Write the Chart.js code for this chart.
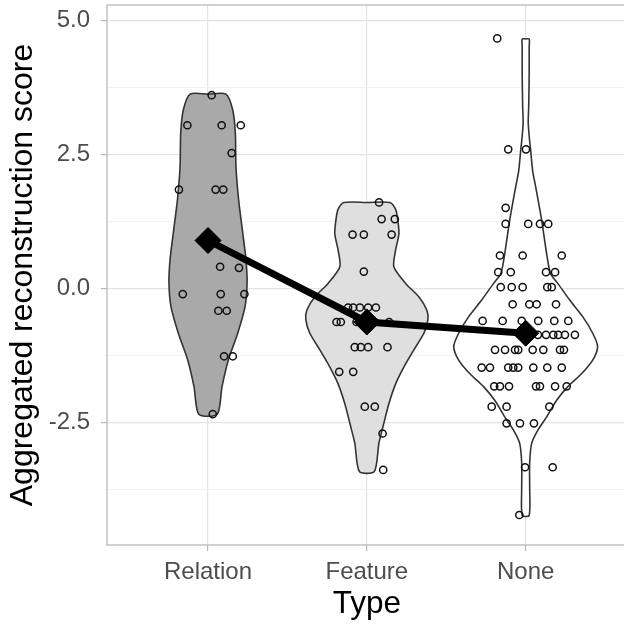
<!DOCTYPE html>
<html>
<head>
<meta charset="utf-8">
<title>Aggregated reconstruction score by type</title>
<script src="https://cdn.jsdelivr.net/npm/chart.js@4.4.1/dist/chart.umd.min.js"></script>
<style>
  html, body { margin: 0; padding: 0; background: #fff; overflow: hidden; }
  #wrap { width: 632px; height: 624px; }
</style>
</head>
<body>
<div id="wrap"><canvas id="chart" width="632" height="624"></canvas></div>
<script>
// categories on the x axis
const categories = ["Relation", "Feature", "None"];

// y ticks (labelled) and minor grid lines
const yTicks = [-2.5, 0, 2.5, 5];
const yMinorTicks = [-3.75, -1.25, 1.25, 3.75];

// group means (black diamonds + line)
const meanScores = [0.90, -0.62, -0.83];

// violin outlines: score levels and half widths (in category units)
const relationLevels = [3.63, 3.33, 2.90, 2.27, 1.65, 1.03, 0.54, 0.11, -0.34, -0.83, -1.33, -1.83, -2.34];
const relationWidths = [0.113, 0.156, 0.172, 0.176, 0.193, 0.219, 0.239, 0.246, 0.233, 0.187, 0.128, 0.088, 0.058];

const featureLevels = [1.61, 1.49, 1.34, 1.03, 0.72, 0.41, 0.10, -0.15, -0.40, -0.58, -0.83, -1.14, -1.46, -1.76, -2.14, -2.51, -2.88, -3.41];
const featureWidths = [0.145, 0.180, 0.192, 0.202, 0.181, 0.170, 0.244, 0.327, 0.378, 0.384, 0.359, 0.296, 0.233, 0.183, 0.139, 0.107, 0.076, 0.047];

const noneLevels = [4.66, 4.5, 4.0, 3.4, 3.10, 2.85, 2.59, 2.2, 1.9, 1.27, 0.65, 0.28, 0.10, -0.21, -0.52, -0.83, -1.08, -1.33, -1.58, -1.83, -2.08, -2.39, -2.64, -2.88, -3.25, -3.7, -4.23];
const noneWidths = [0.022, 0.022, 0.022, 0.019, 0.016, 0.022, 0.031, 0.044, 0.063, 0.101, 0.132, 0.157, 0.202, 0.277, 0.359, 0.422, 0.453, 0.422, 0.353, 0.264, 0.195, 0.132, 0.076, 0.038, 0.025, 0.025, 0.022];

// individual scores and their horizontal jitter (category units)
const relationScores = [3.61, 3.05, 3.05, 3.05, 2.53, 1.85, 1.85, 1.85, 0.41, 0.39, -0.10, -0.10, -0.10, -0.41, -0.41, -1.26, -1.26, -2.34];
const relationJitter = [0.023, -0.130, 0.086, 0.206, 0.149, -0.183, 0.048, 0.096, 0.076, 0.195, -0.159, 0.080, 0.229, 0.065, 0.118, 0.101, 0.156, 0.030];

const featureScores = [1.61, 1.30, 1.30, 1.01, 1.01, 1.01, 0.32, -0.35, -0.35, -0.35, -0.35, -0.35, -0.62, -0.62, -0.62, -0.62, -0.62, -0.62,
  -1.09, -1.09, -1.09, -1.09, -1.55, -1.55, -2.20, -2.20, -2.70, -3.38];
const featureJitter = [0.077, 0.093, 0.176, -0.090, -0.019, 0.156, -0.019, -0.118, -0.086, -0.044, 0.008, 0.057, -0.191, -0.164, -0.065, 0.140, 0.019, 0.050,
  -0.076, -0.038, 0.008, 0.130, -0.174, -0.086, -0.013, 0.050, 0.099, 0.103];

const noneScores = [4.67, 2.60, 2.60, 1.51, 1.21, 1.21, 1.21, 1.21, 0.62, 0.62, 0.62, 0.31, 0.31, 0.31, 0.31,
  0.03, 0.03, 0.03, 0.03, 0.03, -0.29, -0.29, -0.29, -0.29,
  -0.60, -0.60, -0.60, -0.60, -0.60, -0.60, -0.86, -0.86, -0.86, -0.86, -0.86, -0.86, -0.86,
  -1.14, -1.14, -1.14, -1.14, -1.14, -1.14, -1.14, -1.14,
  -1.47, -1.47, -1.47, -1.47, -1.47, -1.47, -1.47, -1.47,
  -1.82, -1.82, -1.82, -1.82, -1.82, -1.82, -1.82,
  -2.20, -2.20, -2.20, -2.51, -2.51, -2.51, -3.33, -3.33, -4.22];
const noneJitter = [-0.179, -0.110, 0.002, -0.126, -0.126, 0.016, 0.090, 0.142, -0.162, -0.019, 0.227, -0.173, -0.094, 0.128, 0.185,
  -0.157, -0.088, -0.019, 0.136, 0.164, -0.082, 0.023, 0.069, 0.191,
  -0.271, -0.145, -0.025, 0.079, 0.180, 0.268, 0.027, 0.077, 0.128, 0.174, 0.205, 0.247, 0.310,
  -0.193, -0.130, -0.067, -0.047, 0.044, 0.111, 0.216, 0.241,
  -0.277, -0.225, -0.110, -0.078, -0.047, 0.048, 0.136, 0.227,
  -0.198, -0.162, -0.105, 0.065, 0.090, 0.185, 0.258,
  -0.214, -0.120, 0.149, -0.120, -0.036, 0.052, -0.004, 0.170, -0.040];

const FONT = "'Liberation Sans', Arial, Helvetica, sans-serif";

// closed outline: top centre -> right side down -> left side up -> top centre
function violinShape(center, levels, widths) {
  const pts = [{ x: center, y: levels[0] }];
  levels.forEach((y, i) => pts.push({ x: center + widths[i], y }));
  for (let i = levels.length - 1; i >= 0; i--) pts.push({ x: center - widths[i], y: levels[i] });
  pts.push({ x: center, y: levels[0] });
  return pts;
}

function jittered(center, scores, jitter) {
  return scores.map((y, i) => ({ x: center + jitter[i], y }));
}

function violinDataset(data, fill) {
  return {
    type: "scatter",
    data,
    showLine: true,
    fill: "shape",
    tension: 0.25,
    borderColor: "#333333",
    borderWidth: 1.6,
    backgroundColor: fill,
    pointRadius: 0,
    order: 3
  };
}

function pointsDataset(data) {
  return {
    type: "scatter",
    data,
    showLine: false,
    pointStyle: "circle",
    pointRadius: 3.6,
    pointBorderWidth: 1.5,
    pointBorderColor: "#111111",
    pointBackgroundColor: "rgba(0,0,0,0)",
    order: 2
  };
}

const panelBorder = {
  id: "panelBorder",
  afterDraw(chart) {
    const { ctx, chartArea: a } = chart;
    ctx.save();
    ctx.strokeStyle = "#b8b8b8";
    ctx.lineWidth = 1.3;
    ctx.strokeRect(a.left, a.top, a.right - a.left, a.bottom - a.top);
    ctx.restore();
  }
};

const isMajor = v => yTicks.some(t => Math.abs(t - v) < 1e-9);

// keep the panel where the reference has it: no extra room for edge labels
function noEdgePadding(s) {
  s.paddingTop = 0;
  s.paddingBottom = 0;
  s.paddingLeft = 0;
  s.paddingRight = 0;
}

new Chart(document.getElementById("chart"), {
  type: "scatter",
  data: {
    datasets: [
      {
        type: "scatter",
        data: meanScores.map((y, i) => ({ x: i, y })),
        showLine: true,
        borderColor: "#000000",
        borderWidth: 7,
        pointStyle: "rectRot",
        pointRadius: 13,
        pointBackgroundColor: "#000000",
        pointBorderColor: "#000000",
        pointBorderWidth: 1,
        order: 1
      },
      pointsDataset(jittered(0, relationScores, relationJitter)),
      pointsDataset(jittered(1, featureScores, featureJitter)),
      pointsDataset(jittered(2, noneScores, noneJitter)),
      violinDataset(violinShape(0, relationLevels, relationWidths), "#a9a9a9"),
      violinDataset(violinShape(1, featureLevels, featureWidths), "#dfdfdf"),
      violinDataset(violinShape(2, noneLevels, noneWidths), "#ffffff")
    ]
  },
  options: {
    responsive: false,
    animation: false,
    events: [],
    layout: { autoPadding: false, padding: { top: 5, right: 5.3, left: 0, bottom: 0 } },
    plugins: { legend: { display: false }, tooltip: { enabled: false } },
    scales: {
      x: {
        type: "linear",
        min: -0.636,
        max: 2.636,
        afterBuildTicks: s => { s.ticks = categories.map((c, i) => ({ value: i })); },
        afterFit: s => { s.height = 79; noEdgePadding(s); },
        ticks: {
          callback: v => categories[v],
          font: { family: FONT, size: 24 },
          color: "#4d4d4d",
          padding: 7,
          maxRotation: 0
        },
        grid: { color: "#e4e4e4", lineWidth: 1.2, tickLength: 6, tickColor: "#b8b8b8" },
        border: { display: false },
        title: {
          display: true,
          text: "Type",
          font: { family: FONT, size: 31.5 },
          color: "#000000",
          padding: { top: 0, bottom: 1 }
        }
      },
      y: {
        type: "linear",
        min: -4.78,
        max: 5.293,
        afterBuildTicks: s => {
          s.ticks = yTicks.concat(yMinorTicks).sort((a, b) => a - b).map(v => ({ value: v }));
        },
        afterFit: s => { s.width = 107; noEdgePadding(s); },
        ticks: {
          callback: v => isMajor(v) ? v.toFixed(1) : "",
          font: { family: FONT, size: 24 },
          color: "#4d4d4d",
          padding: 11
        },
        grid: {
          color: c => c.tick && isMajor(c.tick.value) ? "#e4e4e4" : "#f0f0f0",
          lineWidth: c => c.tick && isMajor(c.tick.value) ? 1.2 : 0.9,
          tickLength: 6,
          tickColor: c => c.tick && isMajor(c.tick.value) ? "#b8b8b8" : "rgba(0,0,0,0)"
        },
        border: { display: false },
        title: {
          display: true,
          text: "Aggregated reconstruction score",
          font: { family: FONT, size: 32 },
          color: "#000000",
          padding: { top: 4, bottom: 0 }
        }
      }
    }
  },
  plugins: [panelBorder]
});
</script>
</body>
</html>
